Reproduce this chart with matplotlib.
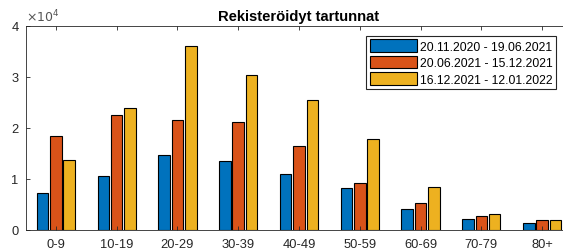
import numpy as np
import matplotlib
matplotlib.use("Agg")
import matplotlib.pyplot as plt

plt.rcParams['font.family'] = ['Liberation Sans', 'DejaVu Sans']

ikaryhmat = ['0-9', '10-19', '20-29', '30-39', '40-49', '50-59', '60-69', '70-79', '80+']
jakso1 = [7200, 10500, 14700, 13600, 11000, 8300, 4100, 2100, 1400]
jakso2 = [18500, 22500, 21600, 21200, 16500, 9200, 5200, 2800, 1900]
jakso3 = [13800, 23900, 36000, 30300, 25500, 17800, 8500, 3200, 1900]
selitteet = ['20.11.2020 - 19.06.2021', '20.06.2021 - 15.12.2021', '16.12.2021 - 12.01.2022']
varit = ['#0072BD', '#D95319', '#EDB120']

fig = plt.figure(figsize=(5.63, 2.53), dpi=100)
ax = fig.add_axes([25.5 / 563, 1 - 231 / 253, 547 / 563, 204 / 253])

x = np.arange(1, len(ikaryhmat) + 1)
leveys = 0.19
siirto = 0.22
for i, (arvot, nimi) in enumerate(zip([jakso1, jakso2, jakso3], selitteet)):
    ax.bar(x + (i - 1) * siirto, np.array(arvot) / 1e4, leveys, color=varit[i],
           edgecolor='black', linewidth=0.8, label=nimi)

harmaa = '#262626'
ax.set_xlim(0.5, 9.5)
ax.set_ylim(0, 4)
ax.set_xticks(x)
ax.set_xticklabels(ikaryhmat)
ax.set_yticks([0, 1, 2, 3, 4])
ax.tick_params(direction='in', length=3, width=0.6, colors=harmaa, labelsize=9.3,
               top=True, right=True)
ax.tick_params(axis='x', pad=6)
ax.tick_params(axis='y', pad=5)
for s in ax.spines.values():
    s.set_color(harmaa)
    s.set_linewidth(0.6)

ax.set_title('Rekisteröidyt tartunnat', fontsize=10.6, fontweight='bold', color='black',
             pad=4)
ax.text(0.0, 1.01, r'$\times10^{4}$', transform=ax.transAxes, fontsize=9,
        color='#555555', ha='left', va='bottom')

leg = ax.legend(loc='upper right', fontsize=8.7, handlelength=3.9,
                handleheight=1.25, handletextpad=0.2, borderpad=0.3, labelspacing=0.25,
                fancybox=False, framealpha=1, borderaxespad=0)
leg.get_frame().set_edgecolor(harmaa)
leg.get_frame().set_linewidth(0.8)
leg.set_bbox_to_anchor((556 / 563, 1 - 36.5 / 253), transform=fig.transFigure)

fig.savefig('out.png', dpi=100)
